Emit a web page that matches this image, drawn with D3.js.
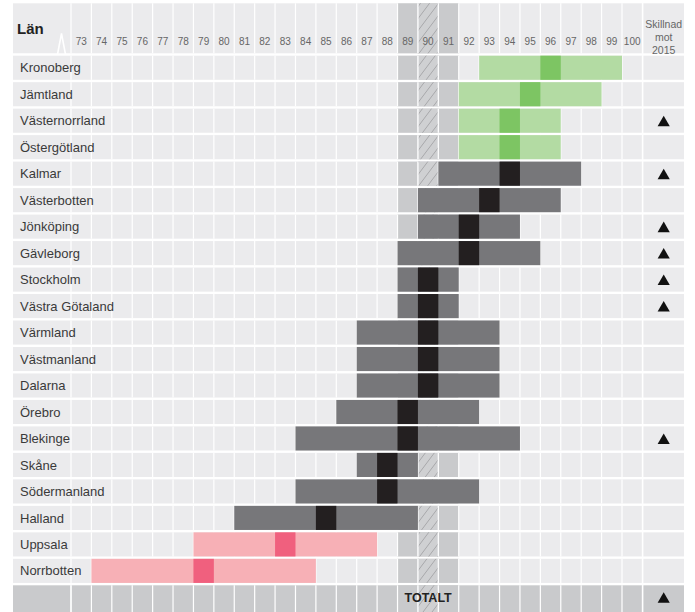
<!DOCTYPE html>
<html>
<head>
<meta charset="utf-8">
<script src="https://cdn.jsdelivr.net/npm/d3@7"></script>
<style>
  html, body { margin: 0; padding: 0; background: #fff; }
  svg { display: block; font-family: "Liberation Sans", Arial, Helvetica, sans-serif; }
</style>
</head>
<body>
<svg id="chart" width="695" height="612"></svg>
<script>
// ---- data ----
const lan = ["Kronoberg","Jämtland","Västernorrland","Östergötland","Kalmar","Västerbotten",
  "Jönköping","Gävleborg","Stockholm","Västra Götaland","Värmland","Västmanland","Dalarna",
  "Örebro","Blekinge","Skåne","Södermanland","Halland","Uppsala","Norrbotten"];
const lower  = [93,92,92,92,91,90,90,89,89,89,87,87,87,86,84,87,84,81,79,74];
const median = [96,95,94,94,94,93,92,92,90,90,90,90,90,89,89,88,88,85,83,79];
const upper  = [99,98,96,96,97,96,94,95,91,91,93,93,93,92,94,89,92,89,87,84];
const group  = ["over","over","over","over","mid","mid","mid","mid","mid","mid","mid","mid",
  "mid","mid","mid","mid","mid","mid","under","under"];
const upVs2015 = [false,false,true,false,true,false,true,true,true,true,false,false,false,
  false,true,false,false,false,false,false];
const totalLabel = "TOTALT";
const totalUp = true;
const ticks = [73,74,75,76,77,78,79,80,81,82,83,84,85,86,87,88,89,90,91,92,93,94,95,96,97,98,99,100];
const avgBand = [89,90,91];
const avgHatch = 90;
const headerLabel = "Län";
const diffLabel = ["Skillnad","mot","2015"];

// ---- styles ----
const colors = {
  over:  {range: "#b3dba3", mid: "#7dc563"},
  mid:   {range: "#77777a", mid: "#231f20"},
  under: {range: "#f7b0b6", mid: "#f0607e"}
};
const cellBg = "#ebebed", avgBg = "#c9cacc", totalBg = "#c9cacc";

const svg = d3.select("#chart");
const left = 13, right = 684;
const x = d3.scaleBand().domain(ticks).range([71, 642.4]).paddingInner(0).paddingOuter(0);
const cw = x.bandwidth();
const rows = lan.concat([totalLabel]);
const y = d3.scaleBand().domain(rows).range([55.7, 609.4]).paddingInner(0.09).paddingOuter(0);
const rh = y.bandwidth();
const headTop = 3.3, headBot = 53.3;
const diffX0 = 643.4;

// hatch pattern
const defs = svg.append("defs");
const pat = defs.append("pattern").attr("id","hatch").attr("patternUnits","userSpaceOnUse")
  .attr("width", 9).attr("height", 12);
pat.append("path").attr("d","M0,12 L9,0 M-2,2.67 L0,0 M9,12 L11,9.33")
  .attr("stroke","#a3a3a6").attr("stroke-width",0.9).attr("fill","none");

function drawBand(g, y0, h, isTotal) {
  // background
  g.append("rect").attr("x", left).attr("y", y0).attr("width", right - left).attr("height", h)
    .attr("fill", isTotal ? totalBg : cellBg);
  // average band
  g.selectAll("rect.avg").data(avgBand).join("rect").attr("class","avg")
    .attr("x", d => x(d)).attr("y", y0).attr("width", cw).attr("height", h)
    .attr("fill", avgBg);
}
function drawGrid(g, y0, h) {
  const bounds = ticks.map(d => x(d)).concat([x(ticks[ticks.length-1]) + cw]);
  g.selectAll("line.v").data(bounds).join("line").attr("class","v")
    .attr("x1", d => d).attr("x2", d => d).attr("y1", y0).attr("y2", y0 + h)
    .attr("stroke", "#fff").attr("stroke-width", 1.2);
}
function drawHatch(g, y0, h) {
  g.append("rect").attr("x", x(avgHatch)).attr("y", y0).attr("width", cw).attr("height", h)
    .attr("fill", "#cfd0d2");
  g.append("rect").attr("x", x(avgHatch)).attr("y", y0).attr("width", cw).attr("height", h)
    .attr("fill", "url(#hatch)");
  g.append("line").attr("x1", x(avgHatch)).attr("x2", x(avgHatch)).attr("y1", y0).attr("y2", y0+h)
    .attr("stroke", "#e2e2e4").attr("stroke-width", 0.8);
  g.append("line").attr("x1", x(avgHatch)+cw).attr("x2", x(avgHatch)+cw).attr("y1", y0).attr("y2", y0+h)
    .attr("stroke", "#e2e2e4").attr("stroke-width", 0.8);
}

// ---- header ----
const head = svg.append("g");
drawBand(head, headTop, headBot - headTop, false);
drawHatch(head, headTop, headBot - headTop);
drawGrid(head, headTop, headBot - headTop);
head.append("text").attr("x", 17).attr("y", 34).text(headerLabel)
  .attr("font-size", 15).attr("font-weight", "bold").attr("fill", "#222");
head.selectAll("text.tick").data(ticks).join("text").attr("class","tick")
  .attr("x", d => x(d) + cw/2).attr("y", 45).attr("text-anchor","middle")
  .attr("font-size", 10).attr("fill", "#666").text(d => d);
head.selectAll("text.diff").data(diffLabel).join("text").attr("class","diff")
  .attr("x", (diffX0 + right)/2).attr("y", (d,i) => 28 + i*13).attr("text-anchor","middle")
  .attr("font-size", 10.5).attr("fill", "#666").text(d => d);
// break mark
svg.append("path").attr("d", "M13,54.5 L57.5,54.5 L61.5,33.5 L65.5,54.5 L75,54.5")
  .attr("fill","none").attr("stroke","#fff").attr("stroke-width",1.6).attr("stroke-linejoin","miter");

// ---- rows ----
const rowG = svg.append("g").selectAll("g.row").data(lan.map((name,i) => ({
    name, lo: lower[i], md: median[i], hi: upper[i], grp: group[i], up: upVs2015[i]})))
  .join("g").attr("class","row");

rowG.each(function(d) {
  const g = d3.select(this);
  const y0 = y(d.name);
  drawBand(g, y0, rh, false);
  drawHatch(g, y0, rh);
  drawGrid(g, y0, rh);
  // range bar
  g.append("rect").attr("x", x(d.lo)).attr("y", y0)
    .attr("width", x(d.hi) + cw - x(d.lo)).attr("height", rh)
    .attr("fill", colors[d.grp].range);
  // median cell
  g.append("rect").attr("x", x(d.md)).attr("y", y0).attr("width", cw).attr("height", rh)
    .attr("fill", colors[d.grp].mid);
  // label
  g.append("text").attr("x", 20).attr("y", y0 + rh/2 + 4.6).text(d.name)
    .attr("font-size", 13).attr("fill", "#3a3a3a");
  if (d.up) {
    g.append("path").attr("d", d3.symbol(d3.symbolTriangle, 64)())
      .attr("transform", `translate(${(diffX0 + right)/2},${y0 + rh/2 + 2})`)
      .attr("fill", "#111");
  }
});

// ---- total row ----
const tg = svg.append("g");
const ty = y(totalLabel);
const th = 612 - ty;
drawBand(tg, ty, th, true);
drawHatch(tg, ty, th);
tg.select("rect").attr("fill", totalBg);
drawGrid(tg, ty, th);
tg.append("line").attr("x1", 71).attr("x2", 71).attr("y1", ty).attr("y2", ty+th)
  .attr("stroke","#fff").attr("stroke-width",1.2);
tg.append("text").attr("x", x(avgHatch) + cw/2).attr("y", ty + rh/2 + 4.5)
  .attr("text-anchor","middle").attr("font-size", 12.5).attr("font-weight","bold")
  .attr("fill","#222").text(totalLabel);
if (totalUp) {
  tg.append("path").attr("d", d3.symbol(d3.symbolTriangle, 64)())
    .attr("transform", `translate(${(diffX0 + right)/2},${ty + rh/2 + 2})`)
    .attr("fill", "#111");
}
// separator before diff column
svg.append("g").selectAll("rect.sep").data([0]).join("rect")
  .attr("x", x(100) + cw - 0.2).attr("y", 0).attr("width", 1.2).attr("height", 612).attr("fill", "#fff");
</script>
</body>
</html>
